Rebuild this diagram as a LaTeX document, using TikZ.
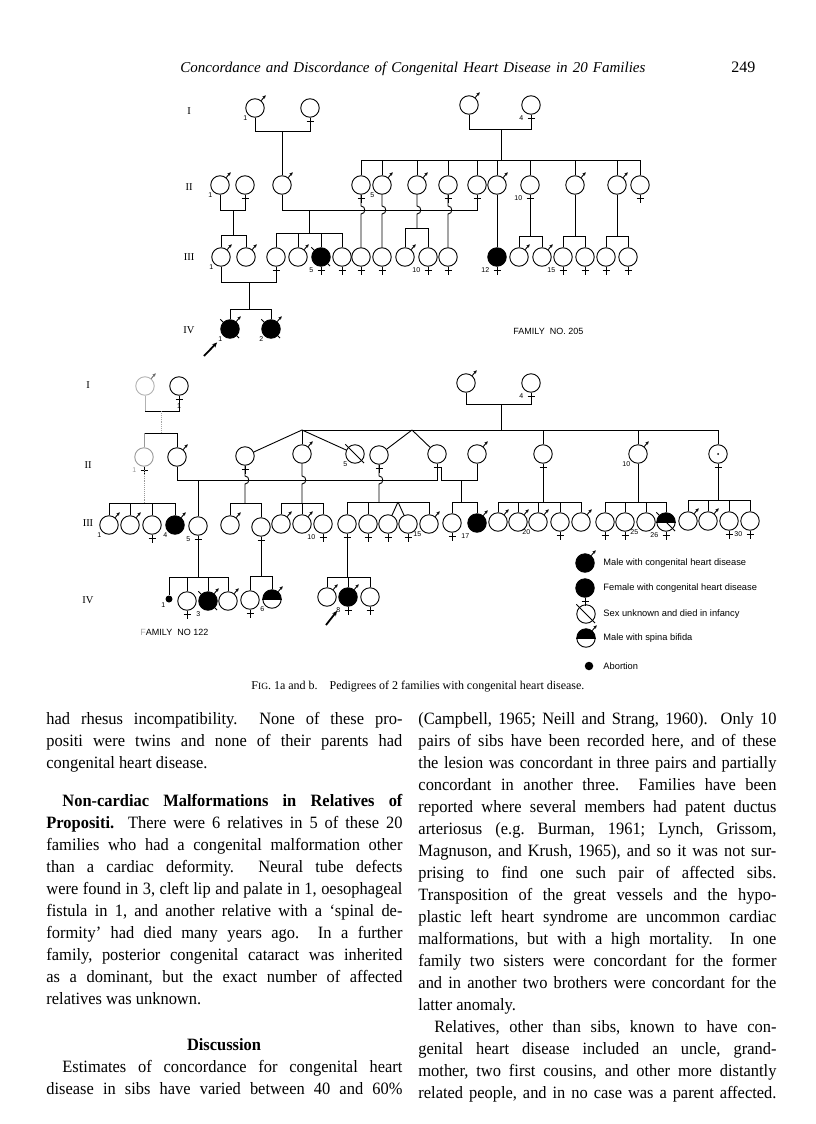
\documentclass[tikz,border=0pt]{standalone}
\usepackage{fontspec}
\setmainfont{Liberation Serif}
\setsansfont{Liberation Sans}
\newfontfamily\bodyfont{Liberation Serif}[FakeStretch=0.95]
\usepackage{tikz}
\usetikzlibrary{arrows.meta}
\tikzstyle{ind} = [draw,circle,minimum size=18.5pt,inner sep=0pt]
\tikzstyle{aff} = [ind,fill=black]
\tikzstyle{abort} = [circle,fill=black,minimum size=7pt,inner sep=0pt]
\tikzstyle{num} = [font=\sffamily\fontsize{7}{7}\selectfont,inner sep=0.5pt]
\tikzstyle{gen} = [font=\fontsize{10.5}{11}\selectfont]
\tikzstyle{sexarrow} = [-{Stealth[length=3.5pt,width=3.2pt]}]
\tikzstyle{proband} = [-{Stealth[length=5pt,width=4.5pt]},line width=1.8pt]
\tikzstyle{txt} = [anchor=base west,inner sep=0pt,font=\bodyfont\frenchspacing\fontsize{17.3}{22}\selectfont]
\tikzstyle{legtxt} = [anchor=west,inner sep=0pt,font=\sffamily\fontsize{9.3}{10}\selectfont]

\newcommand{\msign}[1]{\draw[sexarrow] (#1.50) -- ++(50:7pt);}
\newcommand{\fsign}[1]{\draw (#1.south) -- ++(0,8) (#1.south) ++(-3.5,4) -- ++(7,0);}
\newcommand{\died}[1]{\draw (#1.135) ++(135:4pt) -- ++(-45:26.5pt);}
\newcommand{\halfblack}[1]{\begin{scope}\clip (#1.center) ++(-10pt,0pt) rectangle ++(20pt,10pt);
  \fill (#1.center) circle[radius=9.25pt];\end{scope}\draw (#1.west) -- (#1.east);}
\newcommand{\hopv}[4]{\draw (#1) -- (#3,#4-4) .. controls (#3+5,#4-4) and (#3+5,#4+4) .. (#3,#4+4) -- (#2);}
\newcommand{\jl}[1]{\makebox[356pt][s]{#1}}
\newcommand{\jr}[1]{\makebox[358pt][s]{#1}}

\begin{document}
\begin{tikzpicture}[x=1pt,y=-1pt,line width=0.9pt]
\useasboundingbox (0,0) rectangle (816,1124);

% running head
\node[anchor=base west,inner sep=0pt,font=\itshape\fontsize{15}{18}\selectfont] (head) at (180,73) {\makebox[465pt][s]{Concordance and Discordance of Congenital Heart Disease in 20 Families}};
\node[anchor=base west,inner sep=0pt,font=\fontsize{16}{18}\selectfont] (page) at (731,73) {249};

% family 205
\node[gen] (ga1) at (189,111) {I};
\node[gen] (ga2) at (189,187) {II};
\node[gen] (ga3) at (189,257) {III};
\node[gen] (ga4) at (189,330) {IV};

\node[ind,label={[num]225:1}] (aI1) at (255,108) {};
\node[ind] (aI2) at (310,108) {};
\node[ind] (aI3) at (469,105) {};
\node[ind,label={[num,yshift=-3pt]225:4}] (aI4) at (531,105) {};

\node[ind,label={[num]225:1}] (aII1) at (220,185) {};
\node[ind] (aII2) at (245,185) {};
\node[ind] (aII3) at (282,185) {};
\node[ind] (aII4) at (361,185) {};
\node[ind,label={[num]225:5}] (aII5) at (382,185) {};
\node[ind] (aII6) at (417,185) {};
\node[ind] (aII7) at (448,185) {};
\node[ind] (aII8) at (477,185) {};
\node[ind] (aII9) at (497,185) {};
\node[ind,label={[num,yshift=-3pt]225:10}] (aII10) at (530,185) {};
\node[ind] (aII11) at (575,185) {};
\node[ind] (aII12) at (617,185) {};
\node[ind] (aII13) at (640,185) {};

\node[ind,label={[num]225:1}] (aIII1) at (221,257) {};
\node[ind] (aIII2) at (246,257) {};
\node[ind] (aIII3) at (276,257) {};
\node[ind] (aIII4) at (298,257) {};
\node[aff,label={[num,yshift=-3pt]225:5}] (aIII5) at (321,257) {};
\node[ind] (aIII6) at (342,257) {};
\node[ind] (aIII7) at (361,257) {};
\node[ind] (aIII8) at (382,257) {};
\node[ind] (aIII9) at (405,257) {};
\node[ind,label={[num,yshift=-3pt]225:10}] (aIII10) at (428,257) {};
\node[ind] (aIII11) at (448,257) {};
\node[aff,label={[num,yshift=-3pt]225:12}] (aIII12) at (497,257) {};
\node[ind] (aIII13) at (519,257) {};
\node[ind] (aIII14) at (542,257) {};
\node[ind,label={[num,yshift=-3pt]225:15}] (aIII15) at (563,257) {};
\node[ind] (aIII16) at (585,257) {};
\node[ind] (aIII17) at (606,257) {};
\node[ind] (aIII18) at (628,257) {};

\node[aff,label={[num]225:1}] (aIV1) at (230,329) {};
\node[aff,label={[num]225:2}] (aIV2) at (271,329) {};

\foreach \p in {aI1,aI3,aII1,aII3,aII5,aII6,aII9,aII11,aII12,aIII1,aIII2,aIII4,aIII9,aIII13,aIII14,aIV1,aIV2} {\msign{\p}}
\foreach \p in {aI2,aI4,aII2,aII4,aII7,aII8,aII10,aII13,aIII3,aIII5,aIII6,aIII7,aIII8,aIII10,aIII11,aIII12,aIII15,aIII16,aIII17,aIII18} {\fsign{\p}}
\foreach \p in {aIII5,aIV1,aIV2} {\died{\p}}

\draw (aI1.south) -- (255,131) -- (310,131) -- (aI2.south);
\draw (282,131) -- (aII3.north);
\draw (aI3.south) -- (469,129) -- (531,129) -- (aI4.south);
\draw (501,129) -- (501,160);
\draw (361,160) -- (640,160);
\foreach \n in {4,...,13} \draw (aII\n.north) -- (aII\n.north |- 0,160);

\draw (aII1.south) -- (220,210) -- (245,210) -- (aII2.south);
\draw (233,210) -- (233,235);
\draw (221,235) -- (246,235);
\foreach \n in {1,2} \draw (aIII\n.north) -- (aIII\n.north |- 0,235);

\draw (aII3.south) -- (282,210) -- (477,210) -- (aII8.south);
\draw (309,210) -- (309,233);
\draw (276,233) -- (342,233);
\foreach \n in {3,...,6} \draw (aIII\n.north) -- (aIII\n.north |- 0,233);

\hopv{aII4.south}{aIII7.north}{361}{210}
\hopv{aII5.south}{aIII8.north}{382}{210}
\hopv{aII6.south}{417,228}{417}{210}
\draw (405,228) -- (428,228);
\foreach \n in {9,10} \draw (aIII\n.north) -- (aIII\n.north |- 0,228);
\hopv{aII7.south}{aIII11.north}{448}{210}
\draw (aII9.south) -- (aIII12.north);
\draw (aII10.south) -- (530,236);
\draw (519,236) -- (542,236);
\foreach \n in {13,14} \draw (aIII\n.north) -- (aIII\n.north |- 0,236);
\draw (aII11.south) -- (575,236);
\draw (563,236) -- (585,236);
\foreach \n in {15,16} \draw (aIII\n.north) -- (aIII\n.north |- 0,236);
\draw (aII12.south) -- (617,236);
\draw (606,236) -- (628,236);
\foreach \n in {17,18} \draw (aIII\n.north) -- (aIII\n.north |- 0,236);

\draw (aIII1.south) -- (221,282) -- (276,282) -- (aIII3.south);
\draw (249,282) -- (249,309);
\draw (230,309) -- (271,309);
\foreach \n in {1,2} \draw (aIV\n.north) -- (aIV\n.north |- 0,309);

\coordinate (apr) at (204,356);
\draw[proband,shorten >=9pt] (apr) -- (aIV1);
\node[anchor=west,inner sep=0pt,font=\sffamily\fontsize{9}{10}\selectfont] (fam205) at (513,331) {FAMILY\ \ NO. 205};

% family 122
\node[gen] (gb1) at (88,385) {I};
\node[gen] (gb2) at (88,465) {II};
\node[gen] (gb3) at (88,523) {III};
\node[gen] (gb4) at (88,600) {IV};

\node[ind,draw=black!30] (bI1) at (145,386) {};
\node[ind,label={[num,label distance=7pt]below:1}] (bI2) at (179,386) {};
\node[ind] (bI3) at (466,383) {};
\node[ind,label={[num,yshift=-3pt]225:4}] (bI4) at (531,383) {};

\node[ind,draw=black!40,label={[num,black!40,yshift=-3pt]225:1}] (bII1) at (144,457) {};
\node[ind] (bII2) at (177,457) {};
\node[ind] (bII3) at (245,456) {};
\node[ind] (bII4) at (302,454) {};
\node[ind,label={[num]225:5}] (bII5) at (355,454) {};
\node[ind] (bII6) at (379,455) {};
\node[ind] (bII7) at (437,454) {};
\node[ind] (bII8) at (477,454) {};
\node[ind] (bII9) at (543,454) {};
\node[ind,label={[num]225:10}] (bII10) at (638,454) {};
\node[ind] (bII11) at (718,454) {};

\node[ind,label={[num]225:1}] (bIII1) at (109,525) {};
\node[ind] (bIII2) at (130,525) {};
\node[ind] (bIII3) at (152,525) {};
\node[aff,label={[num]225:4}] (bIII4) at (175,525) {};
\node[ind,label={[num,yshift=-3pt]225:5}] (bIII5) at (198,526) {};
\node[ind] (bIII6) at (230,525) {};
\node[ind] (bIII7) at (261,527) {};
\node[ind] (bIII8) at (281,524) {};
\node[ind] (bIII9) at (302,524) {};
\node[ind,label={[num,yshift=-3pt]225:10}] (bIII10) at (323,524) {};
\node[ind] (bIII11) at (347,524) {};
\node[ind] (bIII12) at (368,524) {};
\node[ind] (bIII13) at (388,524) {};
\node[ind] (bIII14) at (408,524) {};
\node[ind,label={[num]225:15}] (bIII15) at (429,524) {};
\node[ind] (bIII16) at (452,523) {};
\node[aff,label={[num,yshift=-3pt]225:17}] (bIII17) at (477,523) {};
\node[ind] (bIII18) at (498,522) {};
\node[ind] (bIII19) at (518,522) {};
\node[ind,label={[num]225:20}] (bIII20) at (538,522) {};
\node[ind] (bIII21) at (560,522) {};
\node[ind] (bIII22) at (581,522) {};
\node[ind] (bIII23) at (605,522) {};
\node[ind] (bIII24) at (625,522) {};
\node[ind,label={[num]225:25}] (bIII25) at (646,522) {};
\node[ind,label={[num,yshift=-3pt]225:26}] (bIII26) at (666,522) {};
\node[ind] (bIII27) at (688,521) {};
\node[ind] (bIII28) at (708,521) {};
\node[ind] (bIII29) at (729,521) {};
\node[ind,label={[num,yshift=-3pt]225:30}] (bIII30) at (750,521) {};

\node[abort,label={[num]225:1}] (bIV1) at (169,599) {};
\node[ind] (bIV2) at (187,601) {};
\node[aff,label={[num,yshift=-3pt]225:3}] (bIV3) at (208,601) {};
\node[ind] (bIV4) at (228,601) {};
\node[ind] (bIV5) at (250,600) {};
\node[ind,label={[num]225:6}] (bIV6) at (272,599) {};
\node[ind] (bIV7) at (327,597) {};
\node[aff,label={[num,yshift=-3pt]225:8}] (bIV8) at (348,597) {};
\node[ind] (bIV9) at (370,597) {};

\halfblack{bIII26}
\halfblack{bIV6}
\fill (bII11.center) circle[radius=1pt];
\draw[sexarrow,black!60] (bI1.50) -- ++(50:7pt);
\foreach \p in {bI3,bII2,bII4,bII8,bII10,bIII1,bIII2,bIII4,bIII6,bIII8,bIII9,bIII15,bIII17,bIII18,bIII19,bIII20,bIII22,bIII27,bIII28,bIV3,bIV4,bIV6,bIV7,bIV8} {\msign{\p}}
\foreach \p in {bI2,bI4,bII1,bII3,bII6,bII7,bII9,bII11,bIII3,bIII5,bIII7,bIII10,bIII11,bIII12,bIII13,bIII14,bIII16,bIII21,bIII23,bIII24,bIII26,bIII29,bIII30,bIV2,bIV5,bIV8,bIV9} {\fsign{\p}}
\foreach \p in {bII5,bIII26,bIV3} {\died{\p}}

\draw[black!30] (bI1.south) -- (145,411);
\draw (145,411) -- (179,411) -- (bI2.south);
\draw[black!35,densely dotted] (161,411) -- (161,433);
\draw (144,433) -- (177,433);
\draw[black!40] (bII1.north) -- (bII1.north |- 0,433);
\draw (bII2.north) -- (bII2.north |- 0,433);

\draw (bI3.south) -- (466,404) -- (531,404) -- (bI4.south);
\draw (501,404) -- (501,430);
\draw (302,430) -- (718,430);
\draw (302,430) -- (bII3);
\draw (302,430) -- (bII4.north);
\draw (302,430) -- (bII5);
\draw (412,430) -- (bII6);
\draw (412,430) -- (bII7);
\foreach \n in {9,10,11} \draw (bII\n.north) -- (bII\n.north |- 0,430);

\draw (bII2.south) -- (177,480) -- (437,480) -- (bII7.south);
\draw (198,480) -- (bIII5.north);
\draw (441,467) -- (441,480) -- (477,480) -- (bII8.south);
\draw (461,480) -- (461,502);
\draw (452,502) -- (477,502);
\foreach \n in {16,17} \draw (bIII\n.north) -- (bIII\n.north |- 0,502);

\draw[black!40,densely dotted] (144,470) -- (144,503);
\draw (109,503) -- (175,503);
\foreach \n in {1,...,4} \draw (bIII\n.north) -- (bIII\n.north |- 0,503);

\hopv{bII3.south}{245,503}{245}{480}
\draw (230,503) -- (261,503);
\foreach \n in {6,7} \draw (bIII\n.north) -- (bIII\n.north |- 0,503);
\hopv{bII4.south}{302,503}{302}{480}
\draw (281,503) -- (323,503);
\foreach \n in {8,9,10} \draw (bIII\n.north) -- (bIII\n.north |- 0,503);
\hopv{bII6.south}{379,502}{379}{480}
\draw (347,502) -- (429,502);
\foreach \n in {11,12,15} \draw (bIII\n.north) -- (bIII\n.north |- 0,502);
\draw (398,502) -- (bIII13);
\draw (398,502) -- (bIII14);
\draw (bII9.south) -- (543,502);
\draw (498,502) -- (581,502);
\foreach \n in {18,...,22} \draw (bIII\n.north) -- (bIII\n.north |- 0,502);
\draw (bII10.south) -- (638,502);
\draw (605,502) -- (666,502);
\foreach \n in {23,...,26} \draw (bIII\n.north) -- (bIII\n.north |- 0,502);
\draw (bII11.south) -- (718,500);
\draw (688,500) -- (750,500);
\foreach \n in {27,...,30} \draw (bIII\n.north) -- (bIII\n.north |- 0,500);

\draw (bIII5.south) -- (198,577);
\draw (169,577) -- (228,577);
\foreach \n in {1,...,4} \draw (bIV\n.north) -- (bIV\n.north |- 0,577);
\draw (bIII7.south) -- (261,576);
\draw (250,576) -- (272,576);
\foreach \n in {5,6} \draw (bIV\n.north) -- (bIV\n.north |- 0,576);
\draw (bIII11.south) -- (347,577);
\draw (327,577) -- (370,577);
\foreach \n in {7,8,9} \draw (bIV\n.north) -- (bIV\n.north |- 0,577);

\coordinate (bpr) at (326,625);
\draw[proband,shorten >=8pt] (bpr) -- (bIV8);
\node[anchor=west,inner sep=0pt,font=\sffamily\fontsize{9}{10}\selectfont] (fam122) at (140,632) {{\color{black!35}F}AMILY\ \ NO 122};

% key
\node[aff] (lg1) at (585,563) {};
\msign{lg1}
\node[legtxt] (lt1) at (603,563) {Male with congenital heart disease};
\node[aff] (lg2) at (585,588) {};
\fsign{lg2}
\node[legtxt] (lt2) at (603,588) {Female with congenital heart disease};
\node[ind] (lg3) at (586,614) {};
\died{lg3}
\node[legtxt] (lt3) at (603,614) {Sex unknown and died in infancy};
\node[ind] (lg4) at (586,638) {};
\halfblack{lg4}
\msign{lg4}
\node[legtxt] (lt4) at (603,638) {Male with spina bifida};
\node[abort,minimum size=8.5pt] (lg5) at (589,666) {};
\node[legtxt] (lt5) at (603,666) {Abortion};

% caption
\node[anchor=base west,inner sep=0pt,font=\fontsize{12}{14}\selectfont] (cap) at (251,689) {\makebox[333pt][s]{F{\fontsize{9.5}{12}\selectfont IG}. 1a and b.\hspace{12pt}Pedigrees of 2 families with congenital heart disease.}};

% left column
\node[txt] (l1) at (46,724) {\jl{had rhesus incompatibility.\ \ None of these pro-}};
\node[txt] (l2) at (46,746) {\jl{positi were twins and none of their parents had}};
\node[txt] (l3) at (46,768) {congenital heart disease.};
\node[txt] (l4) at (62,806) {\makebox[340pt][s]{\bfseries Non-cardiac Malformations in Relatives of}};
\node[txt] (l5) at (46,828) {\jl{\textbf{Propositi.}\ \ There were 6 relatives in 5 of these 20}};
\node[txt] (l6) at (46,850) {\jl{families who had a congenital malformation other}};
\node[txt] (l7) at (46,872) {\jl{than a cardiac deformity.\ \ Neural tube defects}};
\node[txt] (l8) at (46,894) {\jl{were found in 3, cleft lip and palate in 1, oesophageal}};
\node[txt] (l9) at (46,916) {\jl{fistula in 1, and another relative with a ‘spinal de-}};
\node[txt] (l10) at (46,938) {\jl{formity’ had died many years ago.\ \ In a further}};
\node[txt] (l11) at (46,960) {\jl{family, posterior congenital cataract was inherited}};
\node[txt] (l12) at (46,982) {\jl{as a dominant, but the exact number of affected}};
\node[txt] (l13) at (46,1004) {relatives was unknown.};
\node[anchor=base,inner sep=0pt,font=\bodyfont\bfseries\fontsize{17.3}{22}\selectfont] (disc) at (224,1050) {Discussion};
\node[txt] (l14) at (62,1072) {\makebox[340pt][s]{Estimates of concordance for congenital heart}};
\node[txt] (l15) at (46,1094) {\jl{disease in sibs have varied between 40 and 60\%}};

% right column
\node[txt] (r1) at (418,724) {\jr{(Campbell, 1965; Neill and Strang, 1960).\ \ Only 10}};
\node[txt] (r2) at (418,746) {\jr{pairs of sibs have been recorded here, and of these}};
\node[txt] (r3) at (418,768) {\jr{the lesion was concordant in three pairs and partially}};
\node[txt] (r4) at (418,790) {\jr{concordant in another three.\ \ Families have been}};
\node[txt] (r5) at (418,812) {\jr{reported where several members had patent ductus}};
\node[txt] (r6) at (418,834) {\jr{arteriosus (e.g. Burman, 1961; Lynch, Grissom,}};
\node[txt] (r7) at (418,856) {\jr{Magnuson, and Krush, 1965), and so it was not sur-}};
\node[txt] (r8) at (418,878) {\jr{prising to find one such pair of affected sibs.}};
\node[txt] (r9) at (418,900) {\jr{Transposition of the great vessels and the hypo-}};
\node[txt] (r10) at (418,922) {\jr{plastic left heart syndrome are uncommon cardiac}};
\node[txt] (r11) at (418,944) {\jr{malformations, but with a high mortality.\ \ In one}};
\node[txt] (r12) at (418,966) {\jr{family two sisters were concordant for the former}};
\node[txt] (r13) at (418,988) {\jr{and in another two brothers were concordant for the}};
\node[txt] (r14) at (418,1010) {latter anomaly.};
\node[txt] (r15) at (434,1032) {\makebox[342pt][s]{Relatives, other than sibs, known to have con-}};
\node[txt] (r16) at (418,1054) {\jr{genital heart disease included an uncle, grand-}};
\node[txt] (r17) at (418,1076) {\jr{mother, two first cousins, and other more distantly}};
\node[txt] (r18) at (418,1098) {\jr{related people, and in no case was a parent affected.}};

\end{tikzpicture}
\end{document}
